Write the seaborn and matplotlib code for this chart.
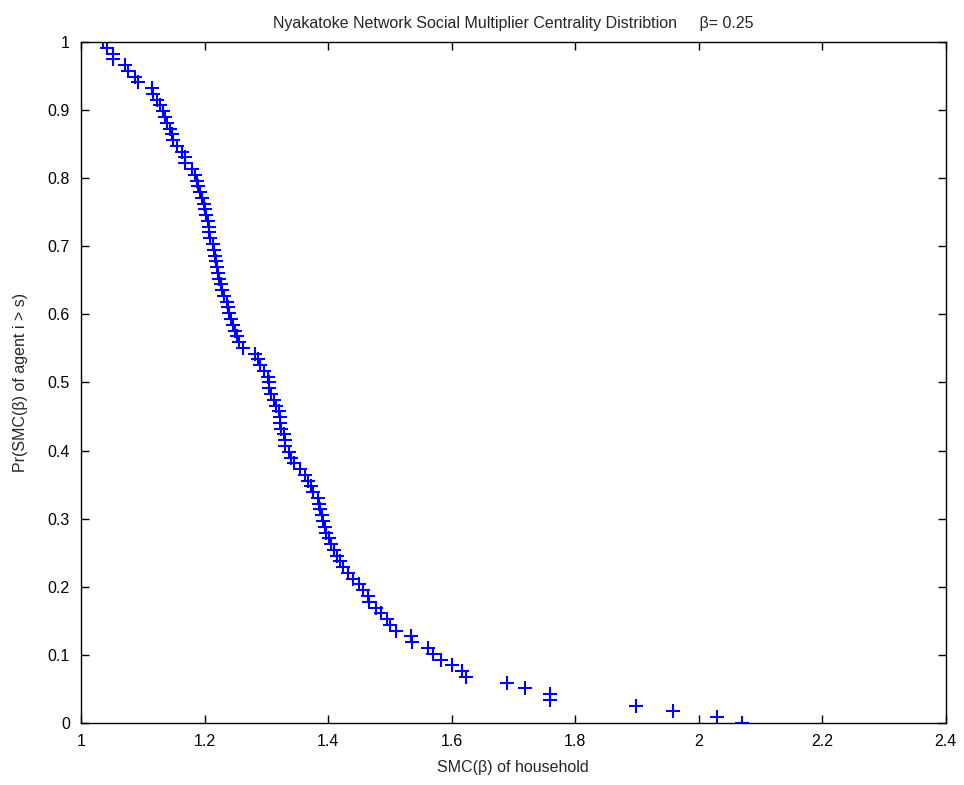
import numpy as np
import pandas as pd
import seaborn as sns
import matplotlib
matplotlib.use("Agg")
import matplotlib.pyplot as plt
from matplotlib.ticker import FuncFormatter

# --- DATA (SMC values of households, sorted high -> low) ---
SMC_VALUES = [
    2.071, 2.029, 1.958, 1.899, 1.760, 1.759, 1.719, 1.689, 1.624, 1.617,
    1.600, 1.583, 1.570, 1.562, 1.536, 1.535, 1.510, 1.500, 1.495, 1.485,
    1.478, 1.466, 1.465, 1.456, 1.450, 1.440, 1.432, 1.425, 1.420, 1.415,
    1.410, 1.405, 1.401, 1.397, 1.395, 1.392, 1.390, 1.387, 1.386, 1.383,
    1.376, 1.372, 1.367, 1.362, 1.355, 1.345, 1.340, 1.336, 1.331, 1.330,
    1.328, 1.324, 1.323, 1.322, 1.321, 1.316, 1.313, 1.308, 1.305, 1.304,
    1.302, 1.296, 1.290, 1.286, 1.282, 1.262, 1.256, 1.252, 1.249, 1.246,
    1.243, 1.240, 1.238, 1.236, 1.232, 1.229, 1.226, 1.224, 1.222, 1.220,
    1.219, 1.217, 1.216, 1.213, 1.209, 1.208, 1.207, 1.205, 1.203, 1.200,
    1.199, 1.196, 1.193, 1.190, 1.188, 1.185, 1.180, 1.168, 1.168, 1.163,
    1.155, 1.149, 1.147, 1.144, 1.139, 1.136, 1.133, 1.128, 1.123, 1.117,
    1.115, 1.092, 1.087, 1.076, 1.071, 1.052, 1.052, 1.042, 1.036,
]

X_TICKS = [1.0, 1.2, 1.4, 1.6, 1.8, 2.0, 2.2, 2.4]
Y_TICKS = [0.0, 0.1, 0.2, 0.3, 0.4, 0.5, 0.6, 0.7, 0.8, 0.9, 1.0]

TITLE = "Nyakatoke Network Social Multiplier Centrality Distribtion     \u03b2= 0.25"
XLABEL = "SMC(\u03b2) of household"
YLABEL = "Pr(SMC(\u03b2) of agent i > s)"

# empirical complementary CDF: rank of each household in the sorted list
n = len(SMC_VALUES)
df = pd.DataFrame({"smc": SMC_VALUES})
df["pr"] = np.arange(n) / (n - 1)

sns.set_theme(style="white")
plt.rcParams["font.family"] = ["Liberation Sans", "DejaVu Sans"]

fig = plt.figure(figsize=(9.64, 7.85), dpi=100)
ax = fig.add_axes([0.084, 0.079, 0.897, 0.8675])

sns.scatterplot(data=df, x="smc", y="pr", marker="+", s=105, color="#0000ff",
                linewidth=1.5, ax=ax, legend=False)

ax.set_xlim(1.0, 2.4)
ax.set_ylim(0.0, 1.0)
ax.set_xticks(X_TICKS)
ax.set_yticks(Y_TICKS)
fmt = FuncFormatter(lambda v, p: f"{v:g}")
ax.xaxis.set_major_formatter(fmt)
ax.yaxis.set_major_formatter(fmt)
ax.tick_params(direction="in", length=6, width=1, colors="black", labelsize=11.5,
               top=True, right=True, bottom=True, left=True, pad=8)

for sp in ax.spines.values():
    sp.set_visible(True)
    sp.set_color("black")
    sp.set_linewidth(1.0)

ax.set_title(TITLE, fontsize=11.5, pad=10)
ax.set_xlabel(XLABEL, fontsize=11.5, labelpad=8)
ax.set_ylabel(YLABEL, fontsize=11.5, labelpad=14)

fig.savefig("out.png", dpi=100, facecolor="white")
